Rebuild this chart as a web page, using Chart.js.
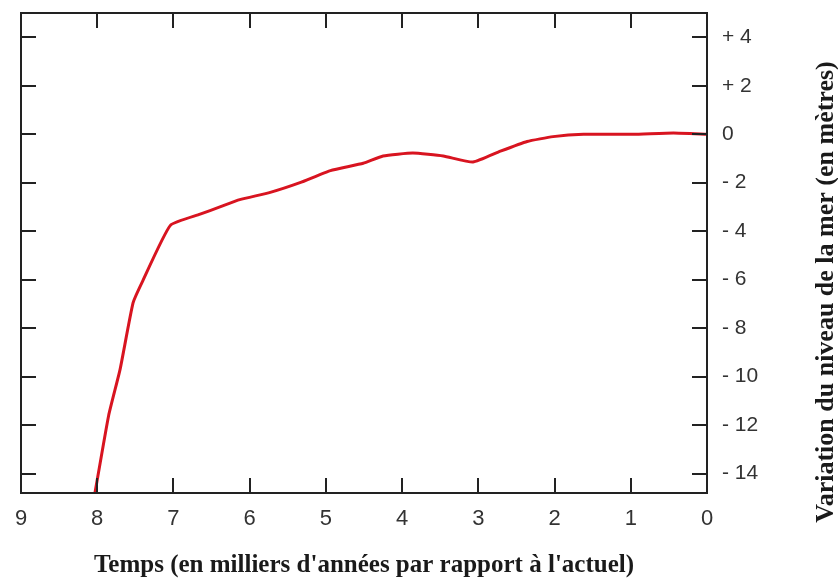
<!DOCTYPE html>
<html>
<head>
<meta charset="utf-8">
<script src="https://cdn.jsdelivr.net/npm/chart.js@4/dist/chart.umd.min.js"></script>
<style>
  html, body { margin: 0; padding: 0; background: #fff; }
  #wrap { width: 838px; height: 581px; position: relative; }
</style>
</head>
<body>
<div id="wrap"><canvas id="seaChart"></canvas></div>
<script>
// time in thousands of years before present
const years = [8.03, 7.85, 7.70, 7.53, 7.41, 7.04, 6.65, 6.39, 6.13, 5.73, 5.34, 4.94, 4.51, 4.25, 3.86, 3.46, 3.07, 2.71, 2.36, 2.02, 1.62, 0.97, 0.44, 0];
// sea level change in metres
const seaLevel = [-14.8, -11.6, -9.7, -6.96, -6.1, -3.76, -3.3, -3.0, -2.7, -2.4, -2.0, -1.5, -1.2, -0.9, -0.78, -0.9, -1.15, -0.7, -0.3, -0.1, 0, 0, 0.05, 0];

const xTicks = [9, 8, 7, 6, 5, 4, 3, 2, 1, 0];
const yTicks = [4, 2, 0, -2, -4, -6, -8, -10, -12, -14];

const xTitle = "Temps (en milliers d'années par rapport à l'actuel)";
const yTitle = "Variation du niveau de la mer (en mètres)";

const axisColor = '#222';
const tickLen = 15;

// box, inward ticks on all four sides, and the rotated right title
const frame = {
    id: 'frame',
    afterDraw(chart) {
        const ctx = chart.ctx;
        const a = chart.chartArea;
        const xs = chart.scales.x, ys = chart.scales.y;
        ctx.save();
        ctx.strokeStyle = axisColor;
        ctx.lineWidth = 2;
        ctx.strokeRect(a.left, a.top, a.right - a.left, a.bottom - a.top);
        ctx.beginPath();
        xTicks.forEach(v => {
            const px = Math.round(xs.getPixelForValue(v));
            ctx.moveTo(px, a.bottom); ctx.lineTo(px, a.bottom - tickLen);
            ctx.moveTo(px, a.top); ctx.lineTo(px, a.top + tickLen);
        });
        yTicks.forEach(v => {
            const py = Math.round(ys.getPixelForValue(v));
            ctx.moveTo(a.left, py); ctx.lineTo(a.left + tickLen, py);
            ctx.moveTo(a.right, py); ctx.lineTo(a.right - tickLen, py);
        });
        ctx.stroke();

        ctx.translate(826, (a.top + a.bottom) / 2 + 39);
        ctx.rotate(-Math.PI / 2);
        ctx.fillStyle = '#1a1a1a';
        ctx.font = 'bold 26px "Liberation Serif", serif';
        ctx.textAlign = 'center';
        ctx.textBaseline = 'middle';
        ctx.fillText(yTitle, 0, 0);
        ctx.restore();
    }
};

new Chart(document.getElementById('seaChart').getContext('2d'), {
    type: 'line',
    data: {
        datasets: [{
            data: years.map((x, i) => ({ x: x, y: seaLevel[i] })),
            borderColor: '#d81420',
            borderWidth: 3,
            pointRadius: 0,
            tension: 0.15,
            fill: false
        }]
    },
    options: {
        responsive: true,
        maintainAspectRatio: false,
        animation: false,
        layout: { padding: { left: 21, top: 13, right: 0, bottom: 0 } },
        plugins: { legend: { display: false }, tooltip: { enabled: false } },
        scales: {
            x: {
                type: 'linear',
                position: 'bottom',
                reverse: true,
                min: 0,
                max: 9,
                grid: { display: false, drawTicks: false },
                border: { display: false },
                afterBuildTicks: s => { s.ticks = xTicks.map(v => ({ value: v })); },
                afterFit: s => { s.height = 88; s.paddingLeft = 0; s.paddingRight = 0; },
                ticks: {
                    padding: 13,
                    color: '#333',
                    font: { family: '"Liberation Sans", Arial, sans-serif', size: 22 }
                },
                title: {
                    display: true,
                    text: xTitle,
                    color: '#1a1a1a',
                    font: { family: '"Liberation Serif", serif', size: 25, weight: 'bold' },
                    padding: { top: 13, bottom: 0 }
                }
            },
            y: {
                type: 'linear',
                position: 'right',
                min: -14.8,
                max: 5,
                grid: { display: false, drawTicks: false },
                border: { display: false },
                afterBuildTicks: s => { s.ticks = yTicks.map(v => ({ value: v })); },
                afterFit: s => { s.width = 131; s.paddingTop = 0; s.paddingBottom = 0; },
                ticks: {
                    padding: 15,
                    color: '#333',
                    font: { family: '"Liberation Sans", Arial, sans-serif', size: 21 },
                    callback: v => v > 0 ? '+ ' + v : (v < 0 ? '- ' + (-v) : '0')
                }
            }
        }
    },
    plugins: [frame]
});
</script>
</body>
</html>
